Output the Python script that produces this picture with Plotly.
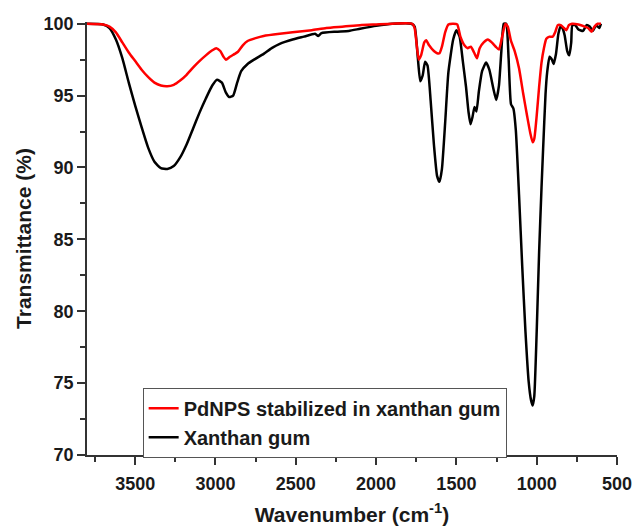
import plotly.graph_objects as go

# Xanthan gum (black)
xg_wn = [3800, 3700, 3660, 3620, 3580, 3540, 3500, 3460, 3420, 3380, 3340, 3300, 3260, 3220, 3180, 3140,
         3100, 3060, 3020, 2990, 2960, 2935, 2915, 2890, 2865, 2840, 2800, 2760, 2700, 2650, 2600, 2520,
         2450, 2380, 2360, 2340, 2250, 2170, 2100, 2000, 1900, 1780, 1760, 1740, 1725, 1710, 1695, 1680,
         1660, 1640, 1620, 1605, 1590, 1570, 1550, 1520, 1500, 1480, 1460, 1440, 1425, 1412, 1400, 1387,
         1375, 1360, 1340, 1315, 1295, 1270, 1252, 1235, 1220, 1205, 1190, 1175, 1160, 1145, 1130, 1110,
         1090, 1070, 1050, 1035, 1025, 1015, 1000, 985, 970, 960, 945, 935, 920, 905, 895, 880, 865, 852,
         840, 826, 810, 797, 785, 778, 760, 740, 711, 690, 670, 650, 630, 610, 600]
xg_t = [100.0, 99.95, 99.7, 98.9, 97.6, 95.9, 94.3, 92.8, 91.4, 90.4, 89.95, 89.9, 90.1, 90.7, 91.6, 92.7,
        93.8, 94.8, 95.7, 96.1, 95.9, 95.2, 94.9, 95.0, 95.9, 96.7, 97.2, 97.5, 97.9, 98.3, 98.6, 98.9,
        99.1, 99.3, 99.15, 99.35, 99.45, 99.5, 99.65, 99.85, 100.0, 100.0, 99.8, 97.6, 96.0, 96.4, 97.35, 97.1,
        94.6, 91.6, 89.4, 89.0, 89.9, 93.1, 96.6, 98.9, 99.55, 99.1, 97.4, 95.6, 93.9, 93.0, 93.5, 94.2,
        93.9, 95.3, 96.7, 97.3, 96.8, 95.5, 94.7, 95.7, 98.1, 100.0, 100.0, 97.6, 94.4, 94.1, 92.6, 88.1,
        83.1, 78.6, 75.1, 73.8, 73.45, 74.1, 78.6, 84.1, 88.6, 91.3, 95.1, 96.6, 97.7, 97.5, 97.2, 97.9, 99.3, 99.8,
        99.7, 99.2, 98.1, 97.8, 98.7, 99.9, 99.9, 99.6, 99.5, 99.9, 99.8, 99.5, 99.9, 99.7, 100.0]

# PdNPs stabilized in xanthan gum (red)
pd_wn = [3800, 3700, 3660, 3620, 3580, 3540, 3500, 3460, 3420, 3380, 3340, 3300, 3260, 3220, 3180, 3140,
         3100, 3060, 3020, 2995, 2970, 2950, 2935, 2910, 2880, 2860, 2830, 2800, 2750, 2700, 2600, 2520,
         2400, 2310, 2200, 2100, 2000, 1900, 1775, 1760, 1745, 1734, 1720, 1700, 1688, 1670, 1640, 1620,
         1605, 1590, 1570, 1550, 1520, 1495, 1475, 1450, 1430, 1410, 1390, 1372, 1355, 1330, 1304, 1280,
         1255, 1235, 1215, 1195, 1180, 1160, 1137, 1110, 1085, 1060, 1040, 1025, 1015, 1000, 985, 970,
         955, 940, 920, 900, 885, 869, 850, 830, 815, 800, 780, 740, 700, 680, 659, 640, 620, 600]
pd_t = [100.0, 99.95, 99.8, 99.4, 98.7, 98.0, 97.4, 96.8, 96.3, 95.9, 95.7, 95.65, 95.75, 96.05, 96.45, 96.95,
        97.4, 97.8, 98.15, 98.3, 98.1, 97.7, 97.5, 97.7, 97.9, 98.05, 98.5, 98.8, 99.0, 99.15, 99.3, 99.4,
        99.55, 99.7, 99.8, 99.9, 99.95, 100.0, 100.0, 99.7, 98.3, 97.5, 97.8, 98.7, 98.85, 98.5, 98.1, 97.95,
        97.95, 98.4, 99.4, 99.95, 100.0, 99.95, 99.1, 98.5, 98.3, 98.4, 98.0, 97.6, 98.3, 98.7, 98.9, 98.7,
        98.4, 98.2, 99.1, 100.0, 99.8, 98.8, 98.1, 96.9, 95.2, 93.6, 92.4, 91.75, 92.0, 93.6, 95.6, 97.3,
        98.3, 98.95, 99.1, 99.1, 99.4, 99.9, 99.9, 99.7, 99.55, 99.9, 100.0, 99.95, 99.8, 99.7, 99.45, 99.8, 100.0, 100.0]

x_ticks = [3500, 3000, 2500, 2000, 1500, 1000, 500]
y_ticks = [70, 75, 80, 85, 90, 95, 100]

FONT = "Liberation Sans, Arial, sans-serif"
AX = "#333333"

fig = go.Figure()
fig.add_trace(go.Scatter(x=xg_wn, y=xg_t, mode="lines", name="Xanthan gum",
                         line=dict(color="black", width=2.5, shape="spline", smoothing=0.5)))
fig.add_trace(go.Scatter(x=pd_wn, y=pd_t, mode="lines", name="PdNPS stabilized in xanthan gum",
                         line=dict(color="#ff0000", width=2.5, shape="spline", smoothing=0.5)))

axis_common = dict(showgrid=False, zeroline=False, showline=True, linecolor=AX, linewidth=1.6,
                   ticks="outside", ticklen=8, tickwidth=1.6, tickcolor=AX, automargin=False,
                   tickfont=dict(family=FONT, size=18, color="#1a1a1a", weight="bold"))

fig.update_xaxes(range=[3800, 500], tickvals=x_ticks, ticklabelstandoff=4,
                 minor=dict(dtick=250, ticks="outside", ticklen=5, tickwidth=1.6, tickcolor=AX),
                 title=dict(text="Wavenumber (cm<sup>-1</sup>)", standoff=18,
                            font=dict(family=FONT, size=21, color="#1a1a1a", weight="bold")),
                 **axis_common)
fig.update_yaxes(range=[70, 100.12], tickvals=y_ticks,
                 minor=dict(dtick=2.5, ticks="outside", ticklen=5, tickwidth=1.6, tickcolor=AX),
                 title=dict(text="Transmittance (%)", standoff=6,
                            font=dict(family=FONT, size=21, color="#1a1a1a", weight="bold")),
                 **axis_common)

fig.update_layout(
    width=633, height=526,
    margin=dict(l=87, r=16, t=22, b=71),
    plot_bgcolor="white", paper_bgcolor="white",
    legend=dict(x=0.105, y=0.1554, xanchor="left", yanchor="top", traceorder="reversed",
                bordercolor="#555555", borderwidth=1, bgcolor="white",
                font=dict(family=FONT, size=20, color="#1a1a1a", weight="bold"),
                tracegroupgap=0),
    showlegend=True,
)

fig.write_html("out.html", config={"displayModeBar": False},
               post_script="document.body.style.margin='0';")
